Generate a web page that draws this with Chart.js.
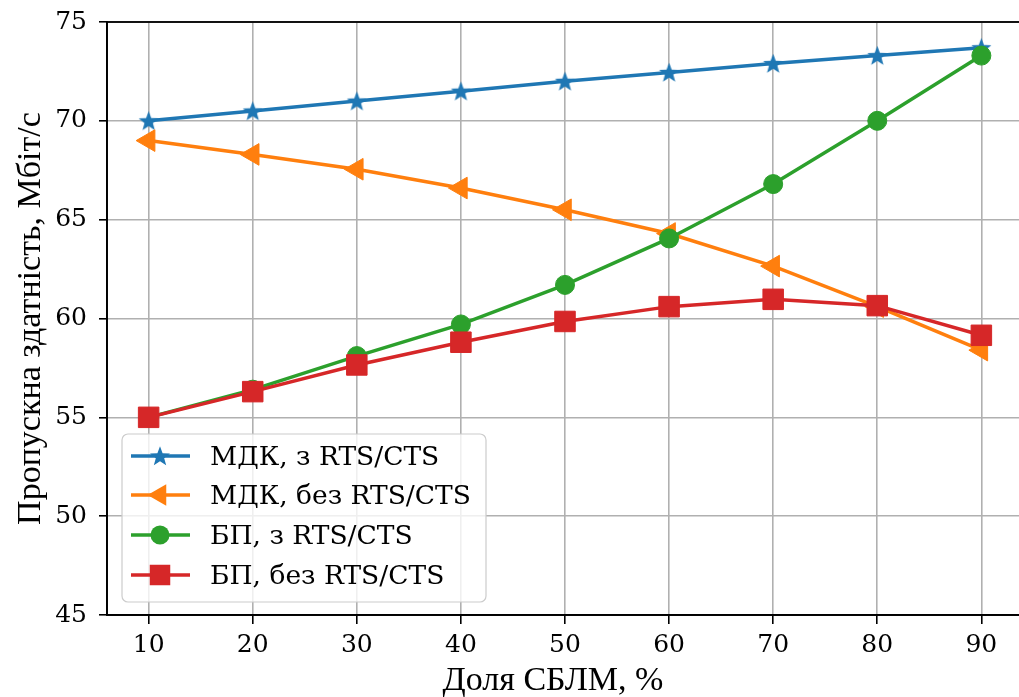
<!DOCTYPE html>
<html>
<head>
<meta charset="utf-8">
<script src="https://cdn.jsdelivr.net/npm/chart.js@4/dist/chart.umd.min.js"></script>
<style>
  html, body { margin: 0; padding: 0; background: #fff; overflow: hidden; }
  #wrap { width: 1023px; height: 697px; }
</style>
</head>
<body>
<div id="wrap"><canvas id="c" width="1023" height="697"></canvas></div>
<script>
// Share of SBLM stations, %
const shares = [10, 20, 30, 40, 50, 60, 70, 80, 90];
// Throughput, Mbit/s
const mdkRts   = [70.0, 70.5, 71.0, 71.5, 72.0, 72.45, 72.9, 73.3, 73.7];
const mdkNoRts = [69.0, 68.3, 67.55, 66.6, 65.5, 64.3, 62.65, 60.6, 58.4];
const bpRts    = [55.0, 56.4, 58.1, 59.7, 61.7, 64.05, 66.8, 70.0, 73.3];
const bpNoRts  = [55.0, 56.3, 57.65, 58.8, 59.85, 60.6, 60.97, 60.65, 59.15];
const seriesNames = ['МДК, з RTS/CTS', 'МДК, без RTS/CTS', 'БП, з RTS/CTS', 'БП, без RTS/CTS'];
const xTicks = [10, 20, 30, 40, 50, 60, 70, 80, 90];
const yTicks = [45, 50, 55, 60, 65, 70, 75];

const C_BLUE = '#1f77b4', C_ORANGE = '#ff7f0e', C_GREEN = '#2ca02c', C_RED = '#d62728';
const TICK_FONT = '"DejaVu Serif", serif';
const TITLE_FONT = '"Liberation Serif", "Times New Roman", serif';

// filled five-point star path
function starPath(ctx, cx, cy, R, r) {
  ctx.beginPath();
  for (let i = 0; i < 10; i++) {
    const rad = (i % 2 === 0) ? R : r;
    const a = -Math.PI / 2 + i * Math.PI / 5;
    const px = cx + rad * Math.cos(a), py = cy + rad * Math.sin(a);
    if (i === 0) ctx.moveTo(px, py); else ctx.lineTo(px, py);
  }
  ctx.closePath();
}
function makeStar(color, R) {
  const s = Math.ceil(R * 2 + 4);
  const cv = document.createElement('canvas');
  cv.width = s; cv.height = s;
  const g = cv.getContext('2d');
  g.fillStyle = color;
  starPath(g, s / 2, s / 2 + 0.8, R, R * 0.42);
  g.fill();
  return cv;
}
const starImg = makeStar(C_BLUE, 10.5);

const toXY = arr => arr.map((v, i) => ({ x: shares[i], y: v }));

const datasets = [
  { label: seriesNames[0], data: toXY(mdkRts), borderColor: C_BLUE, backgroundColor: C_BLUE,
    borderWidth: 3.5, pointStyle: starImg, pointRadius: 10, order: 3 },
  { label: seriesNames[1], data: toXY(mdkNoRts), borderColor: C_ORANGE, backgroundColor: C_ORANGE,
    borderWidth: 3.5, pointStyle: 'triangle', pointRotation: -90, pointRadius: 12.5, pointBorderWidth: 1, order: 2 },
  { label: seriesNames[2], data: toXY(bpRts), borderColor: C_GREEN, backgroundColor: C_GREEN,
    borderWidth: 3.5, pointStyle: 'circle', pointRadius: 9.5, pointBorderWidth: 1, order: 1 },
  { label: seriesNames[3], data: toXY(bpNoRts), borderColor: C_RED, backgroundColor: C_RED,
    borderWidth: 3.5, pointStyle: 'rect', pointRadius: 14.5, pointBorderWidth: 1, order: 0 }
];
datasets.forEach(d => { d.tension = 0; d.fill = false; d.pointHoverRadius = d.pointRadius; });

// frame, axis titles and legend drawn on top of the data
const decorations = {
  id: 'decorations',
  afterDatasetsDraw(chart) {
    const ctx = chart.ctx, a = chart.chartArea;
    ctx.save();
    ctx.strokeStyle = '#000';
    ctx.lineWidth = 1.8;
    ctx.strokeRect(a.left, a.top, a.right - a.left, a.bottom - a.top);
    ctx.restore();
  },
  afterDraw(chart) {
    const ctx = chart.ctx, a = chart.chartArea;
    ctx.save();
    ctx.fillStyle = '#000';
    ctx.font = '34px ' + TITLE_FONT;
    ctx.textAlign = 'center';
    ctx.textBaseline = 'alphabetic';
    ctx.fillText('Доля СБЛМ, %', 553, 690);
    ctx.translate(40, (a.top + a.bottom) / 2);
    ctx.rotate(-Math.PI / 2);
    ctx.fillText('Пропускна здатність, Мбіт/с', 0, 0);
    ctx.restore();

    // legend box
    const lx = 122, ly = 434, lw = 364, lh = 168, rr = 6;
    ctx.save();
    ctx.beginPath();
    ctx.moveTo(lx + rr, ly);
    ctx.arcTo(lx + lw, ly, lx + lw, ly + lh, rr);
    ctx.arcTo(lx + lw, ly + lh, lx, ly + lh, rr);
    ctx.arcTo(lx, ly + lh, lx, ly, rr);
    ctx.arcTo(lx, ly, lx + lw, ly, rr);
    ctx.closePath();
    ctx.fillStyle = 'rgba(255,255,255,0.8)';
    ctx.fill();
    ctx.strokeStyle = '#cccccc';
    ctx.lineWidth = 1.2;
    ctx.stroke();

    const rowY = [456, 495, 535, 575];
    const colors = [C_BLUE, C_ORANGE, C_GREEN, C_RED];
    ctx.font = '26.5px ' + TICK_FONT;
    ctx.textAlign = 'left';
    ctx.textBaseline = 'middle';
    seriesNames.forEach((name, i) => {
      const y = rowY[i], c = colors[i], mx = 160;
      ctx.strokeStyle = c; ctx.fillStyle = c;
      ctx.lineWidth = 3.5;
      ctx.beginPath(); ctx.moveTo(131, y); ctx.lineTo(190, y); ctx.stroke();
      ctx.beginPath();
      if (i === 0) {
        starPath(ctx, mx, y + 0.8, 10.5, 4.4);
      } else if (i === 1) {
        const r = 12.5;
        ctx.moveTo(mx - r, y);
        ctx.lineTo(mx + r * 0.5, y - r * 0.866);
        ctx.lineTo(mx + r * 0.5, y + r * 0.866);
        ctx.closePath();
      } else if (i === 2) {
        ctx.arc(mx, y, 9.5, 0, Math.PI * 2);
      } else {
        ctx.rect(mx - 10.25, y - 10.25, 20.5, 20.5);
      }
      ctx.fill();
      ctx.fillStyle = '#000';
      ctx.fillText(name, 210, y + 2);
    });
    ctx.restore();
  }
};

new Chart(document.getElementById('c'), {
  type: 'line',
  data: { datasets },
  options: {
    responsive: false,
    animation: false,
    devicePixelRatio: 1,
    layout: { autoPadding: false, padding: { top: 22, left: 0, right: 0, bottom: 0 } },
    plugins: { legend: { display: false }, tooltip: { enabled: false } },
    scales: {
      x: {
        type: 'linear', min: 6, max: 94,
        afterBuildTicks: s => { s.ticks = xTicks.map(v => ({ value: v })); },
        afterFit: s => { s.height = 82; s.paddingLeft = 0; s.paddingRight = 0; },
        grid: { color: '#b0b0b0', lineWidth: 1.6, tickColor: '#000', tickLength: 9, tickWidth: 1.6 },
        border: { color: '#000', width: 1.8 },
        ticks: { color: '#000', font: { family: TICK_FONT, size: 25 }, padding: 6, maxRotation: 0, autoSkip: false }
      },
      y: {
        type: 'linear', min: 45, max: 75,
        afterBuildTicks: s => { s.ticks = yTicks.map(v => ({ value: v })); },
        afterFit: s => { s.width = 107; s.paddingTop = 0; s.paddingBottom = 0; },
        grid: { color: '#b0b0b0', lineWidth: 1.6, tickColor: '#000', tickLength: 8, tickWidth: 1.6 },
        border: { color: '#000', width: 1.8 },
        ticks: { color: '#000', font: { family: TICK_FONT, size: 25 }, padding: 12, autoSkip: false }
      }
    }
  },
  plugins: [decorations]
});
</script>
</body>
</html>
